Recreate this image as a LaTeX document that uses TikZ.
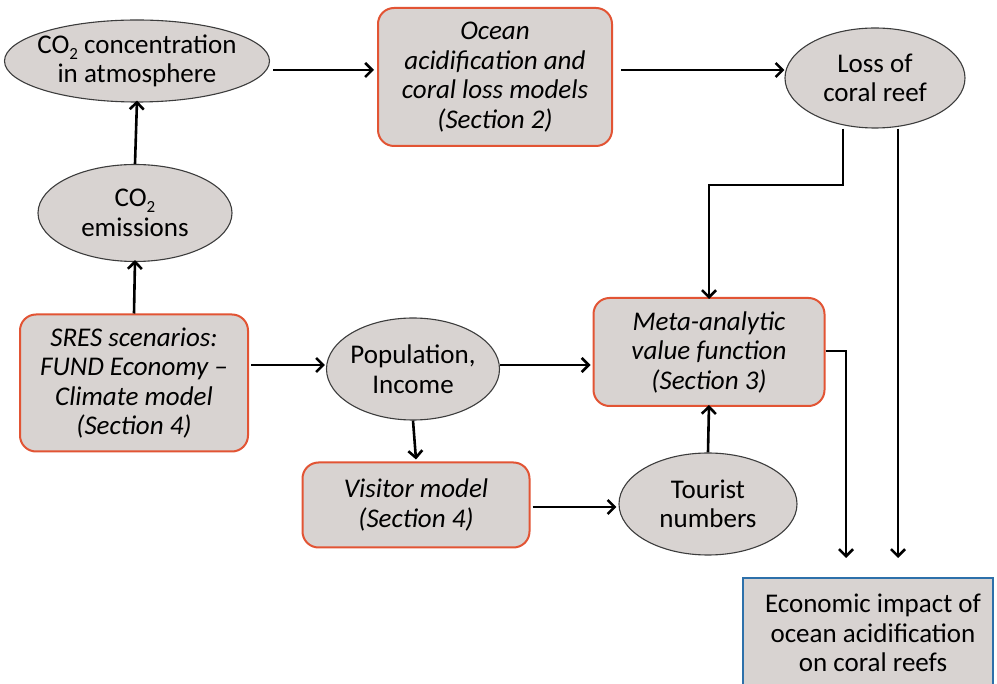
\documentclass[tikz,border=0pt]{standalone}
\usepackage{fontspec}
\setmainfont{Carlito}
\usetikzlibrary{shapes.geometric,arrows.meta}
\definecolor{nodefill}{RGB}{216,211,209}
\definecolor{redline}{RGB}{226,84,52}
\definecolor{blueline}{RGB}{45,112,170}
\definecolor{ellline}{RGB}{60,60,60}
\newcommand\cosub{CO\raisebox{-0.45ex}{\fontsize{17}{17}\selectfont 2}}
\begin{document}
\begin{tikzpicture}[x=1pt,y=-1pt,
  every node/.style={font=\fontsize{27}{29.5}\selectfont, align=center, inner sep=0pt},
  ell/.style={ellipse, draw=ellline, line width=1.1pt, fill=nodefill, inner sep=-40pt},
  redbox/.style={rectangle, rounded corners=16pt, draw=redline, line width=2pt, fill=nodefill, font=\fontsize{27}{29.5}\selectfont\itshape},
  bluebox/.style={rectangle, draw=blueline, line width=2.6pt, fill=nodefill},
  arr/.style={line width=2.6pt, -{Straight Barb[length=7pt,width=14pt]}}]
\useasboundingbox (0,0) rectangle (997,684);
\fill[white] (0,0) rectangle (997,684);

\node[ell, minimum width=265pt, minimum height=82pt] (conc) at (137,61) {\cosub{} concentration\\in atmosphere};
\node[ell, minimum width=194pt, minimum height=97pt] (emis) at (135,213) {\cosub\\emissions};
\node[redbox, minimum width=234pt, minimum height=138pt] (ocean) at (495,77) {Ocean\\acidification and\\coral loss models\\(Section 2)};
\node[ell, minimum width=180pt, minimum height=100pt] (loss) at (875,78) {Loss of\\coral reef};
\node[redbox, minimum width=228pt, minimum height=137pt] (sres) at (134,383) {SRES scenarios:\\FUND Economy --\\Climate model\\(Section 4)};
\node[ell, minimum width=173pt, minimum height=102pt] (pop) at (413,369) {Population,\\Income};
\node[redbox, minimum width=231pt, minimum height=108pt] (meta) at (709,352) {Meta-analytic\\value function\\(Section 3)};
\node[redbox, minimum width=227pt, minimum height=85pt] (visit) at (416,505) {Visitor model\\(Section 4)};
\node[ell, minimum width=178pt, minimum height=102pt] (tour) at (708,504) {Tourist\\numbers};
\node[bluebox, minimum width=250pt, minimum height=130pt] (econ) at (868,643) {};
\node (econtxt) at (873,633) {\fontsize{27}{30}\selectfont Economic impact of\\ocean acidification\\on coral reefs};

\coordinate (r70) at (0,70);
\coordinate (r365) at (0,365);
\coordinate (r507) at (0,507);
\coordinate (r351) at (0,351);
\coordinate (r185) at (0,185);
\coordinate (c843) at (843,0);
\coordinate (c898) at (898,0);
\coordinate (c846) at (846,0);
\coordinate (tipy) at (0,558);

\draw[arr] ([xshift=3pt]conc.east |- r70) -- ([xshift=-3pt]ocean.west |- r70);
\draw[arr] ([xshift=8pt]ocean.east |- r70) -- (loss.west |- r70);
\draw[arr] (emis.north) -- ([yshift=2pt]conc.south);
\draw[arr] (sres.north) -- ([yshift=2pt]emis.south);
\draw[arr] ([xshift=2pt]sres.east |- r365) -- ([xshift=-1pt]pop.west |- r365);
\draw[arr] (pop.east |- r365) -- ([xshift=-2pt]meta.west |- r365);
\draw[arr] (pop.south) -- ([yshift=2pt]visit.north);
\draw[arr] ([xshift=2pt]visit.east |- r507) -- ([xshift=-2pt]tour.west |- r507);
\draw[arr] (tour.north) -- ([yshift=2pt]meta.south);
\draw[arr] (c843 |- loss.south) -- (c843 |- r185) -- (meta.north |- r185) -- ([yshift=-2pt]meta.north);
\draw[arr] (c898 |- loss.south) -- (c898 |- tipy);
\draw[arr] (meta.east |- r351) -- (c846 |- r351) -- (c846 |- tipy);
\end{tikzpicture}
\end{document}
